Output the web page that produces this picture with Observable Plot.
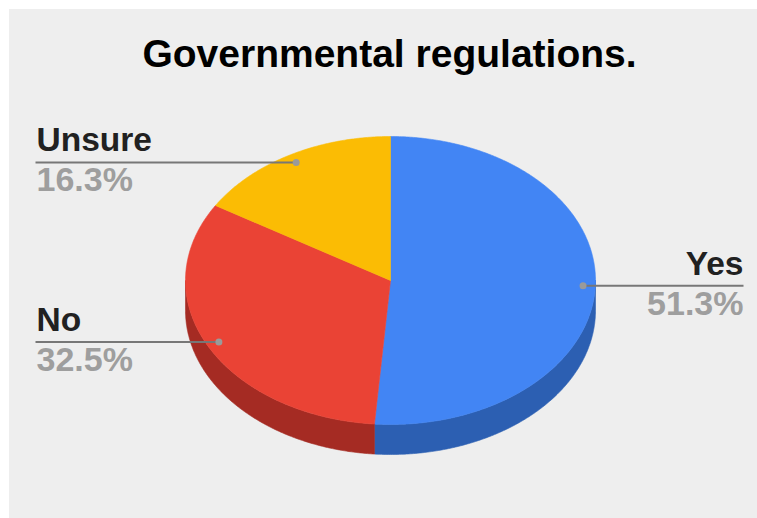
<!DOCTYPE html>
<html><head><meta charset="utf-8">
<script src="https://cdn.jsdelivr.net/npm/d3@7"></script>
<script src="https://cdn.jsdelivr.net/npm/@observablehq/plot@0.6"></script>
<style>
body{margin:0;background:#fff;}
#chart{position:absolute;left:9px;top:9px;width:748px;height:509px;background:#eeeeee;}
</style></head><body><div id="chart"></div>
<script>
const title = "Governmental regulations.";
const categories = ["Yes", "No", "Unsure"];
const values = [51.3, 32.5, 16.3];
const percentLabels = ["51.3%", "32.5%", "16.3%"];
const topColors = ["#4285f4", "#ea4335", "#fbbc04"];
const sideColors = ["#2c5fb2", "#a52b23", "#b38604"];

const FONT = "Liberation Sans, Arial, Helvetica, sans-serif";
const cx = 390, cy = 280, rx = 205, ry = 144, depth = 30;
const total = d3.sum(values);
let acc = 0;
const slices = categories.map((c, i) => {
  const a0 = acc / total * 2 * Math.PI; acc += values[i];
  const a1 = acc / total * 2 * Math.PI;
  return {c, i, a0, a1};
});
const pt = (a, k = 1, dy = 0) => ({x: cx + k * rx * Math.sin(a), y: cy - k * ry * Math.cos(a) + dy});
function arc(a0, a1, dy) {
  const n = Math.max(2, Math.ceil(Math.abs(a1 - a0) / (Math.PI / 360)));
  const out = [];
  for (let j = 0; j <= n; j++) out.push(pt(a0 + (a1 - a0) * j / n, 1, dy));
  return out;
}
const topPts = [], sidePts = [];
for (const s of slices) {
  const poly = [pt(0, 0), ...arc(s.a0, s.a1, 0), pt(0, 0)];
  poly.forEach(p => topPts.push({...p, id: s.c, color: topColors[s.i]}));
  const s0 = Math.max(s.a0, Math.PI / 2), s1 = Math.min(s.a1, 3 * Math.PI / 2);
  if (s1 > s0) {
    const side = [...arc(s0, s1, 0), ...arc(s1, s0, depth)];
    side.push(side[0]);
    side.forEach(p => sidePts.push({...p, id: s.c, color: sideColors[s.i]}));
  }
}
const labels = slices.map(s => {
  const mid = (s.a0 + s.a1) / 2;
  const a = pt(mid, 0.94);
  const left = Math.sin(mid) < 0;
  return {name: s.c, pct: percentLabels[s.i], ax: a.x, ay: a.y, left, tx: left ? 36 : 743, lx: left ? 35 : 743};
});
const leftL = labels.filter(d => d.left), rightL = labels.filter(d => !d.left);
const labelMarks = (data, anchor) => [
  Plot.text(data, {x: "tx", y: d => d.ay - 11, text: "name", textAnchor: anchor,
    lineAnchor: "bottom", fontSize: 33.5, fontWeight: "bold", fill: "#212121", fontFamily: FONT}),
  Plot.text(data, {x: "tx", y: d => d.ay + 29, text: "pct", textAnchor: anchor,
    lineAnchor: "bottom", fontSize: 34, fontWeight: "bold", fill: "#9e9e9e", fontFamily: FONT})
];

const chart = Plot.plot({
  width: 748, height: 509, margin: 0,
  style: {background: "transparent", fontFamily: FONT},
  x: {domain: [9, 757], range: [0, 748], axis: null},
  y: {domain: [9, 518], range: [0, 509], axis: null},
  color: {type: "identity"},
  marks: [
    Plot.line(sidePts, {x: "x", y: "y", z: "id", fill: "color", stroke: "color", strokeWidth: 0.6}),
    Plot.line(topPts, {x: "x", y: "y", z: "id", fill: "color", stroke: "color", strokeWidth: 0.6}),
    Plot.link(labels, {x1: "ax", y1: "ay", x2: "lx", y2: "ay", stroke: "#777777", strokeWidth: 2}),
    Plot.dot(labels, {x: "ax", y: "ay", r: 3.5, fill: "#9a9a9a", stroke: "none"}),
    ...labelMarks(leftL, "start"),
    ...labelMarks(rightL, "end"),
    Plot.text([title], {x: 389, y: 66, text: d => d, lineAnchor: "bottom", fontSize: 39, fontWeight: "bold",
      fill: "#000000", fontFamily: FONT})
  ]
});
document.getElementById("chart").appendChild(chart);
</script></body></html>
